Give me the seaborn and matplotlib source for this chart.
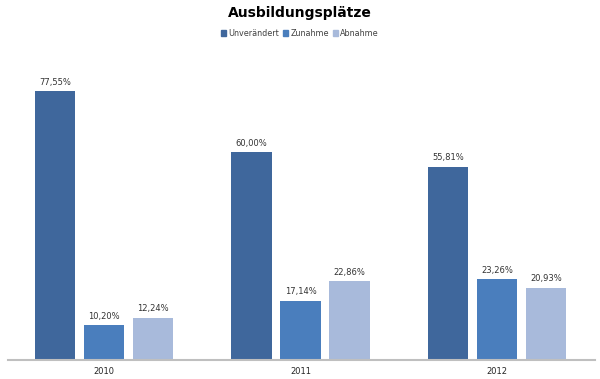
import pandas as pd
import numpy as np
import matplotlib.pyplot as plt
import seaborn as sns
from matplotlib.patches import Patch

# Daten
jahre = ['2010', '2011', '2012']
unveraendert = [77.55, 60.00, 55.81]
zunahme = [10.20, 17.14, 23.26]
abnahme = [12.24, 22.86, 20.93]
serien = ['Unverändert', 'Zunahme', 'Abnahme']

df = pd.DataFrame({
    'Jahr': jahre * 3,
    'Wert': unveraendert + zunahme + abnahme,
    'Serie': [s for s in serien for _ in jahre],
})

sns.set_style('white')
plt.rcParams['font.family'] = ['DejaVu Sans']

farben = ['#3F679C', '#4A7EBD', '#A8BADB']

fig = plt.figure(figsize=(6, 3.79), dpi=100)
ax = fig.add_axes([0.013, 0.05, 0.979, 0.823])

sns.barplot(data=df, x='Jahr', y='Wert', hue='Serie', palette=farben,
            saturation=1, width=0.75, gap=0.18, linewidth=0,
            ax=ax, legend=False)

for cont in ax.containers:
    ax.bar_label(cont, labels=[f'{v:.2f}%'.replace('.', ',') for v in cont.datavalues],
                 fontsize=6, padding=3, color='#333333')

ax.set_xlim(-0.49, 2.5)
ax.set_ylim(0, 90)
ax.set_xlabel('')
ax.set_ylabel('')
ax.set_yticks([])
ax.tick_params(axis='x', labelsize=6, length=0, pad=5)
for s in ['top', 'right', 'left']:
    ax.spines[s].set_visible(False)
ax.spines['bottom'].set_color('#BFBFBF')
ax.spines['bottom'].set_linewidth(1.5)

fig.text(0.5, 0.965, 'Ausbildungsplätze', ha='center', va='center',
         fontsize=10, fontweight='bold', color='black')

handles = [Patch(color=c, label=s) for c, s in zip(farben, serien)]
fig.legend(handles=handles, loc='center', bbox_to_anchor=(0.5, 0.912), ncol=3,
           frameon=False, fontsize=5.8, handlelength=0.6, handleheight=0.6,
           handletextpad=0.3, columnspacing=0.5, labelcolor='#404040')

fig.savefig('out.png', dpi=100)
